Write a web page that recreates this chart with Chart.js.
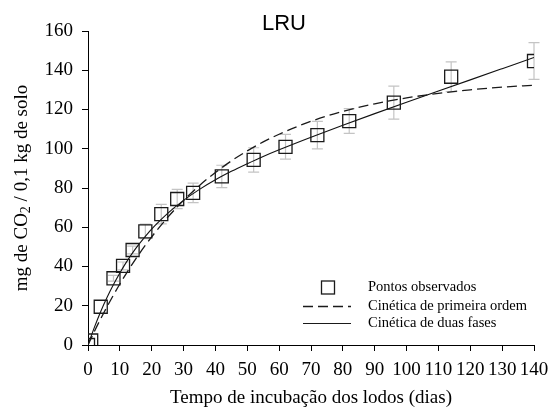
<!DOCTYPE html>
<html>
<head>
<meta charset="utf-8">
<script src="https://cdn.jsdelivr.net/npm/chart.js@4"></script>
<style>
    body { margin: 0; background: #fff; }
</style>
</head>
<body>
<canvas id="chart" width="550" height="409"></canvas>
<script>
// pontos observados (média e desvio)
const days = [0, 1, 4, 8, 11, 14, 18, 23, 28, 33, 42, 52, 62, 72, 82, 96, 114, 140]
const observed = [0, 2.3, 19.5, 34, 40.3, 48.4, 57.9, 66.7, 74.4, 77.5, 85.9, 94.3, 101, 106.9, 114.1, 123.5, 136.7, 144.7]
const deviation = [0, 0, 0, 1.5, 2, 2, 3.7, 5, 4.9, 5, 5.7, 6.2, 6.3, 7, 6.3, 8.4, 7.6, 9.4]

// curvas ajustadas
const curveDays = [0, 2, 4, 6, 8, 10, 12, 15, 18, 21, 25, 30, 35, 40, 45, 50, 55, 60, 70, 80, 90, 100, 110, 120, 130, 140]
const firstOrder = [0, 6.9, 13.4, 19.6, 25.5, 31.1, 36.4, 43.9, 50.8, 57.2, 65.0, 73.7, 81.3, 87.9, 93.8, 98.9, 103.5, 107.4, 114.0, 119.0, 122.9, 125.9, 128.2, 130.0, 131.4, 132.4]
const twoPhase = [0, 9.0, 17.1, 24.3, 30.8, 36.7, 42.1, 49.2, 55.4, 60.8, 67.1, 73.7, 79.3, 84.2, 88.5, 92.4, 96.1, 99.5, 105.9, 112.0, 117.9, 123.7, 129.4, 135.1, 140.8, 146.5]

const xTicks = [0, 10, 20, 30, 40, 50, 60, 70, 80, 90, 100, 110, 120, 130, 140]
const yTicks = [0, 20, 40, 60, 80, 100, 120, 140, 160]

const serif = 'Liberation Serif'
const toPoints = (xs, ys) => xs.map((x, i) => ({ x: x, y: ys[i] }))

// barras de erro em cinza, atrás dos quadrados
const errorBars = {
    id: 'errorBars',
    beforeDatasetsDraw(chart) {
        const { ctx, scales: { x, y } } = chart
        ctx.save()
        ctx.strokeStyle = '#c4c4c4'
        ctx.lineWidth = 1.2
        days.forEach((d, i) => {
            if (!deviation[i]) return
            const px = x.getPixelForValue(d)
            const top = y.getPixelForValue(observed[i] + deviation[i])
            const bottom = y.getPixelForValue(observed[i] - deviation[i])
            ctx.beginPath()
            ctx.moveTo(px, top); ctx.lineTo(px, bottom)
            ctx.moveTo(px - 5.5, top); ctx.lineTo(px + 5.5, top)
            ctx.moveTo(px - 5.5, bottom); ctx.lineTo(px + 5.5, bottom)
            ctx.stroke()
        })
        ctx.restore()
    }
}

// título, nomes dos eixos e legenda
const annotations = {
    id: 'annotations',
    afterDraw(chart) {
        const ctx = chart.ctx
        const area = chart.chartArea
        ctx.save()
        ctx.fillStyle = '#000'
        ctx.textBaseline = 'middle'

        ctx.font = '22px "Liberation Sans"'
        ctx.textAlign = 'center'
        ctx.fillText('LRU', 284, 24)

        ctx.font = '19px "' + serif + '"'
        ctx.fillText('Tempo de incubação dos lodos (dias)', (area.left + area.right) / 2, 398)

        // eixo y com CO2 subscrito
        const parts = [['mg de CO', 19, 0], ['2', 14, 4], [' / 0,1 kg de solo', 19, 0]]
        const widths = parts.map(([t, s]) => { ctx.font = s + 'px "' + serif + '"'; return ctx.measureText(t).width })
        const total = widths.reduce((a, w) => a + w, 0)
        ctx.translate(22, (area.top + area.bottom) / 2)
        ctx.rotate(-Math.PI / 2)
        ctx.textAlign = 'left'
        let pos = -total / 2
        parts.forEach(([t, s, dy], i) => {
            ctx.font = s + 'px "' + serif + '"'
            ctx.fillText(t, pos, dy)
            pos += widths[i]
        })
        ctx.restore()

        // legenda
        ctx.save()
        ctx.strokeStyle = '#1a1a1a'
        ctx.lineWidth = 1.3
        ctx.strokeRect(321.5, 281, 13, 13)
        ctx.setLineDash([10, 5])
        ctx.beginPath(); ctx.moveTo(303, 306.5); ctx.lineTo(351, 306.5); ctx.stroke()
        ctx.setLineDash([])
        ctx.lineWidth = 1.1
        ctx.beginPath(); ctx.moveTo(303, 323.5); ctx.lineTo(351, 323.5); ctx.stroke()
        ctx.fillStyle = '#000'
        ctx.font = '14.5px "' + serif + '"'
        ctx.textBaseline = 'middle'
        ctx.fillText('Pontos observados', 368, 287)
        ctx.fillText('Cinética de primeira ordem', 368, 306)
        ctx.fillText('Cinética de duas fases', 368, 323)
        ctx.restore()
    }
}

const axisStyle = {
    grid: { drawOnChartArea: false, tickLength: 6, tickColor: '#000', tickWidth: 1 },
    border: { color: '#000', width: 1 }
}

new Chart(document.getElementById('chart'), {
    type: 'scatter',
    data: {
        datasets: [
            {
                label: 'Pontos observados',
                data: toPoints(days, observed),
                pointStyle: 'rect',
                pointRadius: 9.2,
                pointHoverRadius: 9.2,
                borderColor: '#1a1a1a',
                backgroundColor: 'rgba(0,0,0,0)',
                borderWidth: 1.3
            },
            {
                label: 'Cinética de primeira ordem',
                type: 'line',
                data: toPoints(curveDays, firstOrder),
                borderColor: '#1a1a1a',
                borderWidth: 1.3,
                borderDash: [10, 5],
                pointRadius: 0,
                cubicInterpolationMode: 'monotone',
                fill: false
            },
            {
                label: 'Cinética de duas fases',
                type: 'line',
                data: toPoints(curveDays, twoPhase),
                borderColor: '#111',
                borderWidth: 1.1,
                pointRadius: 0,
                cubicInterpolationMode: 'monotone',
                fill: false
            }
        ]
    },
    options: {
        responsive: false,
        animation: false,
        devicePixelRatio: 1,
        layout: { padding: { top: 31, right: 16, left: 0, bottom: 0 } },
        plugins: {
            legend: { display: false },
            title: { display: false },
            tooltip: { enabled: false }
        },
        scales: {
            x: {
                type: 'linear',
                min: 0,
                max: 140,
                afterBuildTicks: scale => { scale.ticks = xTicks.map(v => ({ value: v })) },
                afterFit: scale => {
                    scale.height = 64
                    scale.paddingLeft = 0
                    scale.paddingRight = 0
                },
                ticks: { color: '#000', padding: 8, maxRotation: 0, autoSkip: false, font: { family: serif, size: 19 } },
                ...axisStyle
            },
            y: {
                min: 0,
                max: 160,
                afterBuildTicks: scale => { scale.ticks = yTicks.map(v => ({ value: v })) },
                afterFit: scale => {
                    scale.width = 88
                    scale.paddingTop = 0
                    scale.paddingBottom = 0
                },
                ticks: { color: '#000', padding: 9, font: { family: serif, size: 19 } },
                ...axisStyle
            }
        }
    },
    plugins: [errorBars, annotations]
})
</script>
</body>
</html>
